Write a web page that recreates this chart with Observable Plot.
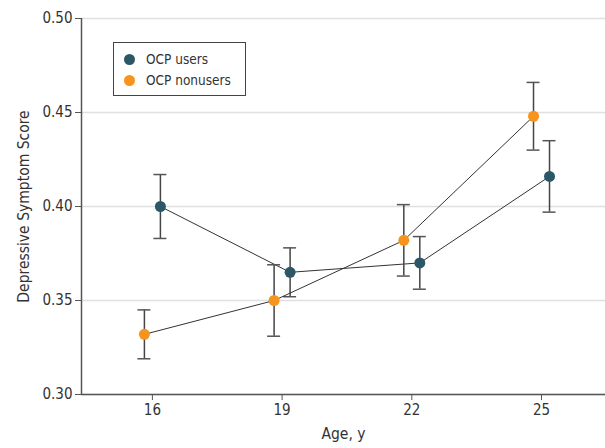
<!DOCTYPE html>
<html>
<head>
<meta charset="utf-8">
<script src="https://cdn.jsdelivr.net/npm/d3@7"></script>
<script src="https://cdn.jsdelivr.net/npm/@observablehq/plot@0.6"></script>
<style>
  html, body { margin: 0; padding: 0; background: #fff; }
  #wrap { position: relative; width: 605px; height: 448px; font-family: "DejaVu Sans Condensed", "DejaVu Sans", sans-serif; font-stretch: condensed; }
  #wrap svg text { font-size: 15px; font-family: "DejaVu Sans Condensed", "DejaVu Sans", sans-serif; font-stretch: condensed; }
  #wrap svg g[aria-label="y-axis label"] text, #wrap svg g[aria-label="x-axis label"] text { font-size: 15.5px; }
  #legend { position: absolute; left: 113px; top: 42px; width: 131px; height: 52px; border: 1px solid #444; background: #fff; font-size: 13.5px; color: #333; }
  .item { position: absolute; left: 10px; display: flex; align-items: center; white-space: nowrap; }
  .sw { width: 11px; height: 11px; border-radius: 50%; margin-right: 11px; }
</style>
</head>
<body>
<div id="wrap"></div>
<script>
const ages = [16, 19, 22, 25];
const seriesNames = ["OCP users", "OCP nonusers"];
const seriesColors = ["#2b5766", "#f7941d"];
const usersMean = [0.400, 0.365, 0.370, 0.416];
const usersLow  = [0.383, 0.352, 0.356, 0.397];
const usersHigh = [0.417, 0.378, 0.384, 0.435];
const nonMean = [0.332, 0.350, 0.382, 0.448];
const nonLow  = [0.319, 0.331, 0.363, 0.430];
const nonHigh = [0.345, 0.369, 0.401, 0.466];
const yTicks = [0.30, 0.35, 0.40, 0.45, 0.50];

const users = ages.map((a, i) => ({age: a, mean: usersMean[i], lo: usersLow[i], hi: usersHigh[i]}));
const non = ages.map((a, i) => ({age: a, mean: nonMean[i], lo: nonLow[i], hi: nonHigh[i]}));

const xDomain = [14.36, 26.48];
const cap = 0.15;

function seriesMarks(data, color, dx) {
  return [
    Plot.line(data, {x: "age", y: "mean", dx, stroke: "#333", strokeWidth: 1}),
    Plot.ruleX(data, {x: "age", y1: "lo", y2: "hi", dx, stroke: "#444", strokeWidth: 1.5}),
    Plot.ruleY(data, {y: "lo", x1: d => d.age - cap, x2: d => d.age + cap, dx, stroke: "#555", strokeWidth: 1.5}),
    Plot.ruleY(data, {y: "hi", x1: d => d.age - cap, x2: d => d.age + cap, dx, stroke: "#555", strokeWidth: 1.5}),
    Plot.dot(data, {x: "age", y: "mean", dx, r: 5.5, fill: color, stroke: "none"})
  ];
}

const chart = Plot.plot({
  width: 605,
  height: 448,
  marginLeft: 81,
  marginTop: 18,
  marginBottom: 54,
  marginRight: 0,
  style: {fontFamily: "'DejaVu Sans Condensed', 'DejaVu Sans', sans-serif", fontSize: "15px", color: "#333", background: "#fff"},
  x: {domain: xDomain},
  y: {domain: [0.30, 0.50]},
  marks: [
    Plot.gridY(yTicks, {stroke: "#e0e0e0", strokeOpacity: 1, strokeWidth: 1.5}),
    Plot.axisY(yTicks, {tickFormat: d3.format(".2f"), tickSize: 6, tickPadding: 3, stroke: "#555", fill: "#333",
      label: "Depressive Symptom Score", labelAnchor: "center", labelOffset: 64, labelArrow: "none"}),
    Plot.axisX(ages, {tickSize: 6, tickPadding: 4, stroke: "#555", fill: "#333",
      label: "Age, y", labelAnchor: "center", labelOffset: 44, labelArrow: "none"}),
    Plot.ruleX([xDomain[0]], {stroke: "#555", strokeWidth: 1.5}),
    Plot.ruleY([0.30], {stroke: "#555", strokeWidth: 1.5}),
    ...seriesMarks(users, seriesColors[0], 8),
    ...seriesMarks(non, seriesColors[1], -8)
  ]
});

const wrap = document.getElementById("wrap");
wrap.appendChild(chart);
const legend = document.createElement("div");
legend.id = "legend";
seriesNames.forEach((name, i) => {
  const item = document.createElement("div");
  item.className = "item";
  item.style.top = (8 + i * 21) + "px";
  const sw = document.createElement("span");
  sw.className = "sw";
  sw.style.background = seriesColors[i];
  const t = document.createElement("span");
  t.textContent = name;
  item.appendChild(sw);
  item.appendChild(t);
  legend.appendChild(item);
});
wrap.appendChild(legend);
</script>
</body>
</html>
